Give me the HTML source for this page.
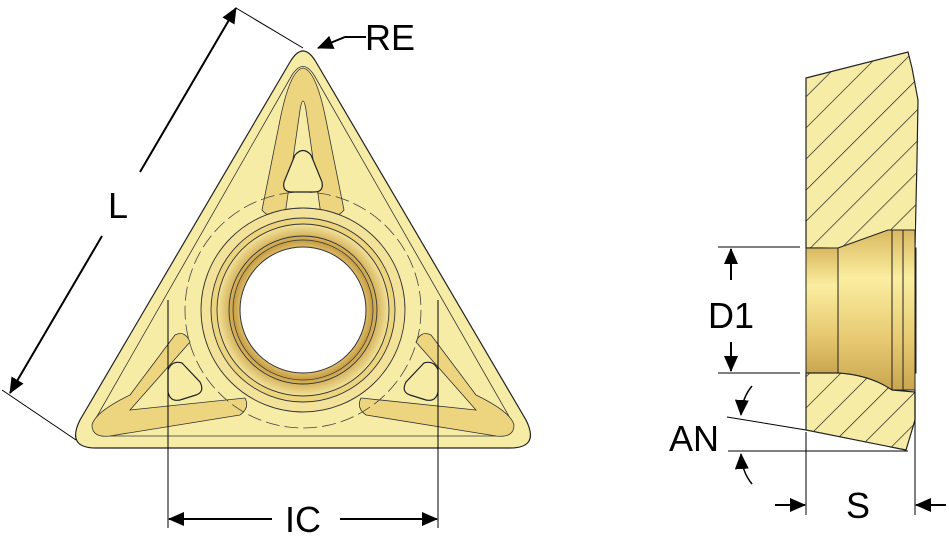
<!DOCTYPE html>
<html><head><meta charset="utf-8"><style>
html,body{margin:0;padding:0;background:#fff;}
svg{display:block;}
text{font-family:"Liberation Sans",sans-serif;fill:#000;}
</style></head><body>
<svg width="949" height="546" viewBox="0 0 949 546" xmlns="http://www.w3.org/2000/svg">
<defs>
<radialGradient id="ring" cx="0.5" cy="0.5" r="0.5">
<stop offset="0.6" stop-color="#fff2b0"/><stop offset="0.8" stop-color="#c9a046"/><stop offset="1" stop-color="#f3e39a"/>
</radialGradient>
<linearGradient id="bore" x1="0" y1="0" x2="0" y2="1">
<stop offset="0" stop-color="#d9b860"/><stop offset="0.3" stop-color="#fbeea0"/><stop offset="0.7" stop-color="#e6c870"/><stop offset="1" stop-color="#c9a650"/>
</linearGradient>
<pattern id="hatch" width="22" height="22" patternUnits="userSpaceOnUse" patternTransform="rotate(45)">
<rect width="22" height="22" fill="#f7eca6"/><line x1="0" y1="0" x2="0" y2="22" stroke="#222" stroke-width="1.4"/>
</pattern>
<marker id="ah" markerWidth="16" markerHeight="14" refX="15" refY="7" orient="auto" markerUnits="userSpaceOnUse"><path d="M0,0 L16,7 L0,14z" fill="#000"/></marker>
</defs>

<!-- Triangle insert -->
<path d="M290,62 Q303,40 316,62 L526,420 Q540,448 510,448 L96,448 Q66,448 80,420 Z" fill="#f7eca6" stroke="#222" stroke-width="1.2"/>
<path d="M292,75 Q303,58 314,75 L510,418 Q518,436 500,436 L106,436 Q88,436 96,418 Z" fill="none" stroke="#333" stroke-width="0.8"/>
<!-- arms / channels -->
<path d="M303,68 Q290,70 280,120 L262,210 Q270,220 285,215 L300,110 Q303,92 306,110 L321,215 Q336,220 344,210 L326,120 Q316,70 303,68 Z" fill="#ecd57e" stroke="#333" stroke-width="0.8"/>
<path d="M92,425 Q95,412 130,395 L175,335 Q185,330 190,342 L130,410 L245,398 Q250,408 240,415 L110,436 Q92,438 92,425 Z" fill="#ecd57e" stroke="#333" stroke-width="0.8"/>
<path d="M514,425 Q511,412 476,395 L431,335 Q421,330 416,342 L476,410 L361,398 Q356,408 366,415 L496,436 Q514,438 514,425 Z" fill="#ecd57e" stroke="#333" stroke-width="0.8"/>
<circle cx="303" cy="310" r="118" fill="none" stroke="#444" stroke-width="0.8" stroke-dasharray="14,5"/>
<circle cx="303" cy="310" r="102" fill="#f3e29a" stroke="#333" stroke-width="0.9"/>
<circle cx="303" cy="310" r="92" fill="#ecd57e" stroke="#333" stroke-width="0.9"/>
<circle cx="303" cy="310" r="86" fill="url(#ring)" stroke="#333" stroke-width="0.9"/>
<circle cx="303" cy="310" r="74" fill="none" stroke="#333" stroke-width="0.9"/>
<circle cx="303" cy="310" r="70" fill="none" stroke="#333" stroke-width="0.7"/>
<circle cx="303" cy="310" r="63" fill="#fff" stroke="#333" stroke-width="1"/>
<!-- pockets -->
<path d="M295,155 Q303,146 311,155 L322,182 Q324,192 314,192 L292,192 Q282,192 284,182 Z" fill="#f7eca6" stroke="#222" stroke-width="1.2"/>
<path d="M168,370 Q172,360 182,363 L200,382 Q205,392 196,395 L180,400 Q170,402 168,392 Z" fill="#f7eca6" stroke="#222" stroke-width="1.2"/>
<path d="M438,370 Q434,360 424,363 L406,382 Q401,392 410,395 L426,400 Q436,402 438,392 Z" fill="#f7eca6" stroke="#222" stroke-width="1.2"/>

<!-- L dimension -->
<line x1="236" y1="8" x2="303" y2="48" stroke="#000" stroke-width="1"/>
<line x1="2" y1="390" x2="76" y2="440" stroke="#000" stroke-width="1"/>
<line x1="140" y1="172" x2="236" y2="8" stroke="#000" stroke-width="2" marker-end="url(#ah)"/>
<line x1="102" y1="236" x2="10" y2="393" stroke="#000" stroke-width="2" marker-end="url(#ah)"/>
<text x="118" y="218" font-size="36" text-anchor="middle">L</text>
<!-- RE -->
<path d="M366,37 L345,37 L318,48" fill="none" stroke="#000" stroke-width="2" marker-end="url(#ah)"/>
<text x="390" y="50" font-size="36" text-anchor="middle">RE</text>
<!-- IC -->
<line x1="168" y1="300" x2="168" y2="528" stroke="#000" stroke-width="1"/>
<line x1="438" y1="300" x2="438" y2="528" stroke="#000" stroke-width="1"/>
<line x1="272" y1="519" x2="169" y2="519" stroke="#000" stroke-width="2" marker-end="url(#ah)"/>
<line x1="340" y1="519" x2="437" y2="519" stroke="#000" stroke-width="2" marker-end="url(#ah)"/>
<text x="303" y="532" font-size="36" text-anchor="middle">IC</text>

<!-- Side view -->
<path d="M806,78 L908,52 L912,68 L918,100 L917,160 L915,248 L806,248 Z" fill="url(#hatch)" stroke="#222" stroke-width="1.2"/>
<path d="M806,248 Q860,248 892,228 L915,222 L915,248 Z" fill="url(#hatch)" stroke="none"/>
<rect x="806" y="248" width="110" height="125" fill="url(#bore)" stroke="#222" stroke-width="1"/>
<path d="M838,248 L888,230 L915,230 L915,390 L888,390 L838,373" fill="url(#bore)" stroke="#222" stroke-width="1"/>
<line x1="838" y1="248" x2="838" y2="373" stroke="#222"/>
<line x1="892" y1="230" x2="892" y2="390" stroke="#222"/>
<line x1="903" y1="230" x2="903" y2="390" stroke="#222"/>
<path d="M806,373 L838,373 Q870,375 892,390 L915,392 L915,420 L906,450 L806,430 Z" fill="url(#hatch)" stroke="#222" stroke-width="1.2"/>
<!-- D1 -->
<line x1="718" y1="247" x2="800" y2="247" stroke="#000" stroke-width="1"/>
<line x1="718" y1="373" x2="800" y2="373" stroke="#000" stroke-width="1"/>
<line x1="731" y1="280" x2="731" y2="249" stroke="#000" stroke-width="2" marker-end="url(#ah)"/>
<line x1="731" y1="342" x2="731" y2="371" stroke="#000" stroke-width="2" marker-end="url(#ah)"/>
<text x="731" y="328" font-size="36" text-anchor="middle">D1</text>
<!-- AN -->
<line x1="727" y1="417" x2="806" y2="430" stroke="#000" stroke-width="1"/>
<line x1="728" y1="451" x2="908" y2="451" stroke="#000" stroke-width="1"/>
<path d="M752,386 Q742,398 741,415" fill="none" stroke="#000" stroke-width="1.5" marker-end="url(#ah)"/>
<path d="M752,484 Q742,472 741,454" fill="none" stroke="#000" stroke-width="1.5" marker-end="url(#ah)"/>
<text x="694" y="451" font-size="36" text-anchor="middle">AN</text>
<!-- S -->
<line x1="806" y1="432" x2="806" y2="515" stroke="#000" stroke-width="1"/>
<line x1="915" y1="390" x2="915" y2="515" stroke="#000" stroke-width="1"/>
<line x1="775" y1="505" x2="805" y2="505" stroke="#000" stroke-width="2" marker-end="url(#ah)"/>
<line x1="946" y1="505" x2="916" y2="505" stroke="#000" stroke-width="2" marker-end="url(#ah)"/>
<text x="858" y="518" font-size="36" text-anchor="middle">S</text>
</svg>
</body></html>
